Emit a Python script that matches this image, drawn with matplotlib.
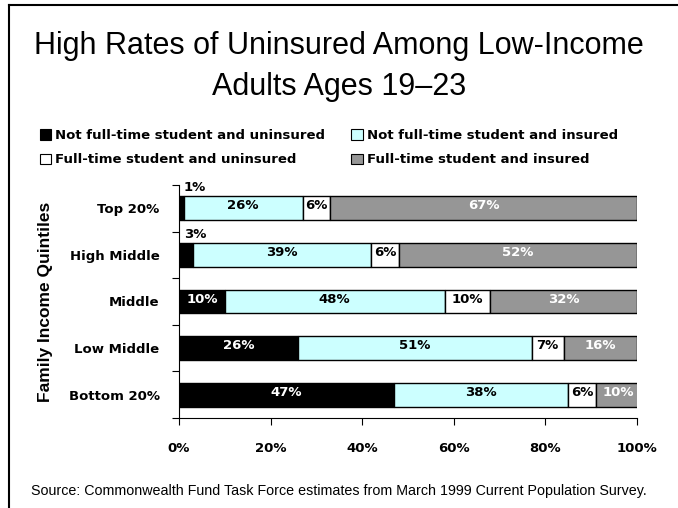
import matplotlib.pyplot as plt
import numpy as np
from matplotlib.patches import Patch
from matplotlib.lines import Line2D

categories = ["Top 20%", "High Middle", "Middle", "Low Middle", "Bottom 20%"]
not_ft_uninsured = [1, 3, 10, 26, 47]
not_ft_insured = [26, 39, 48, 51, 38]
ft_uninsured = [6, 6, 10, 7, 6]
ft_insured = [67, 52, 32, 16, 10]

series_names = ["Not full-time student and uninsured",
                "Not full-time student and insured",
                "Full-time student and uninsured",
                "Full-time student and insured"]
colors = ["#000000", "#CCFFFF", "#FFFFFF", "#969696"]
text_colors = ["white", "black", "black", "white"]
xticks = [0, 20, 40, 60, 80, 100]

series = [not_ft_uninsured, not_ft_insured, ft_uninsured, ft_insured]

fig = plt.figure(figsize=(6.78, 5.08), dpi=100)
ax = fig.add_axes([0.264, 0.177, 0.6755, 0.459])

y = np.arange(len(categories))
left = np.zeros(len(categories))
bh = 0.51
for vals, col, tc in zip(series, colors, text_colors):
    vals = np.array(vals, dtype=float)
    ax.barh(y, vals, left=left, height=bh, color=col, edgecolor="black", linewidth=1.0)
    for i, v in enumerate(vals):
        if v < 5:
            ax.text(left[i] + 1.0, y[i] - bh / 2 - 0.04, f"{int(v)}%", ha="left", va="bottom",
                    fontsize=9.5, fontweight="bold", color="black")
        else:
            ax.text(left[i] + v / 2, y[i] - 0.05, f"{int(v)}%", ha="center", va="center",
                    fontsize=9.5, fontweight="bold", color=tc)
    left += vals

ax.set_xlim(0, 100)
ax.set_ylim(len(categories) - 0.5, -0.5)
ax.set_xticks(xticks)
ax.set_xticklabels([f"{t}%" for t in xticks], fontsize=9.5, fontweight="bold")
ax.set_yticks(np.arange(len(categories) + 1) - 0.5)
ax.set_yticklabels([])
ax.set_yticks(y, minor=True)
ax.set_yticklabels(categories, minor=True, fontsize=9.5, fontweight="bold")
ax.tick_params(axis="y", which="minor", length=0, pad=14)
ax.tick_params(axis="y", which="major", length=5, direction="out")
ax.tick_params(axis="x", length=5, pad=12)
for s in ["top", "right"]:
    ax.spines[s].set_visible(False)
ax.set_ylabel("Family Income Quintiles", fontsize=12.5, fontweight="bold",
              family="Liberation Sans", labelpad=11)

fig.text(0.5, 0.910, "High Rates of Uninsured Among Low-Income", ha="center", va="center",
         fontsize=22, family="Liberation Sans")
fig.text(0.5, 0.828, "Adults Ages 19\u201323", ha="center", va="center",
         fontsize=22, family="Liberation Sans")

handles = [Patch(facecolor=colors[i], edgecolor="black", linewidth=0.8) for i in [0, 2, 1, 3]]
labels = [series_names[i] for i in [0, 2, 1, 3]]
fig.legend(handles, labels, loc="upper left", bbox_to_anchor=(0.051, 0.756), ncol=2,
           frameon=False, prop={"size": 9.5, "weight": "bold"}, handlelength=0.85,
           handleheight=0.85, handletextpad=0.3, columnspacing=2.0, labelspacing=0.85,
           borderaxespad=0)

fig.text(0.5, 0.034, "Source: Commonwealth Fund Task Force estimates from March 1999 Current Population Survey.",
         ha="center", va="center", fontsize=10.3, family="Liberation Sans")

fig.add_artist(Line2D([0.013, 0.013], [0, 0.991], transform=fig.transFigure, color="black", lw=1.5))
fig.add_artist(Line2D([0.013, 1.0], [0.991, 0.991], transform=fig.transFigure, color="black", lw=1.5))

fig.savefig("out.png", dpi=100)
